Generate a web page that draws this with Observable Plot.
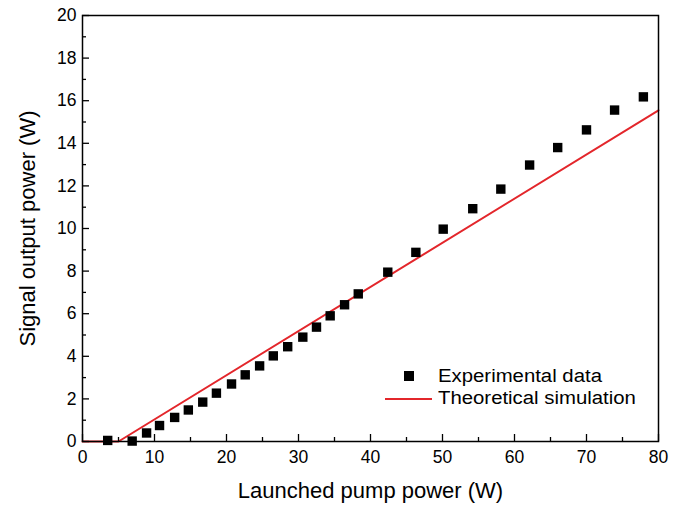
<!DOCTYPE html>
<html>
<head>
<meta charset="utf-8">
<script src="https://cdn.jsdelivr.net/npm/d3@7"></script>
<script src="https://cdn.jsdelivr.net/npm/@observablehq/plot@0.6"></script>
<style>
  body { margin: 0; background: #fff; }
  #wrap { position: relative; width: 686px; height: 513px; font-family: "Liberation Sans", Arial, sans-serif; }
  #legend { position: absolute; left: 382px; top: 365px; font-size: 18px; color: #000; line-height: 22px; }
  .row { display: flex; align-items: center; height: 22px; }
  .sym { width: 56px; height: 22px; position: relative; flex: none; }
  .sq { position: absolute; left: 22px; top: 6px; width: 10px; height: 10px; background: #000; }
  .ln { position: absolute; left: 3px; top: 11px; width: 47px; height: 2px; background: #e3262b; }
  .txt { display: inline-block; transform: scaleX(1.13); transform-origin: left center; white-space: nowrap; }
</style>
</head>
<body>
<div id="wrap">
  <div id="chart"></div>
  <div id="legend">
    <div class="row"><div class="sym"><div class="sq"></div></div><span class="txt">Experimental data</span></div>
    <div class="row"><div class="sym"><div class="ln"></div></div><span class="txt">Theoretical simulation</span></div>
  </div>
</div>
<script>
// Experimental data
const pumpPower = [3.5, 6.9, 8.9, 10.7, 12.8, 14.7, 16.7, 18.6, 20.7, 22.6, 24.6, 26.5, 28.5, 30.6, 32.5, 34.4, 36.4, 38.3, 42.4, 46.3, 50.1, 54.2, 58.1, 62.1, 66.0, 70.0, 73.9, 77.9];
const signalPower = [0.05, 0.02, 0.4, 0.75, 1.13, 1.48, 1.85, 2.27, 2.7, 3.13, 3.55, 4.02, 4.45, 4.9, 5.37, 5.9, 6.42, 6.93, 7.95, 8.88, 9.97, 10.93, 11.85, 12.98, 13.8, 14.63, 15.56, 16.18];
// Theoretical simulation
const simPump = [0, 5.0, 80];
const simSignal = [0, 0, 15.55];

const xMajor = [0, 10, 20, 30, 40, 50, 60, 70, 80];
const xMinor = [5, 15, 25, 35, 45, 55, 65, 75];
const yMajor = [0, 2, 4, 6, 8, 10, 12, 14, 16, 18, 20];
const yMinor = [1, 3, 5, 7, 9, 11, 13, 15, 17, 19];

const expData = pumpPower.map((x, i) => ({x, y: signalPower[i]}));
const simData = simPump.map((x, i) => ({x, y: simSignal[i]}));

const font = "Liberation Sans, Arial, sans-serif";
const chart = Plot.plot({
  width: 686,
  height: 513,
  marginLeft: 82,
  marginRight: 28,
  marginTop: 15,
  marginBottom: 72,
  style: {fontFamily: font, background: "#fff", color: "#000"},
  x: {domain: [0, 80]},
  y: {domain: [0, 20]},
  marks: [
    Plot.line(simData, {x: "x", y: "y", stroke: "#e3262b", strokeWidth: 2}),
    Plot.dot(expData, {x: "x", y: "y", symbol: "square", r: 5.3, fill: "#000", stroke: "none"}),
    Plot.frame({stroke: "#000", strokeWidth: 1.5}),
    Plot.axisX({ticks: xMajor, tickSize: -7, tickFormat: () => "", label: null, strokeWidth: 1.3}),
    Plot.axisX({ticks: xMinor, tickSize: -4, tickFormat: () => "", label: null, strokeWidth: 1.3}),
    Plot.axisY({ticks: yMajor, tickSize: -7, tickFormat: () => "", label: null, strokeWidth: 1.3}),
    Plot.axisY({ticks: yMinor, tickSize: -4, tickFormat: () => "", label: null, strokeWidth: 1.3}),
    Plot.axisX({ticks: xMajor, tickSize: 0, tickPadding: 9, fontSize: 17.5, label: null}),
    Plot.axisY({ticks: yMajor, tickSize: 0, tickPadding: 6, fontSize: 17.5, label: null}),
    Plot.text(["Launched pump power (W)"], {frameAnchor: "bottom", dy: 56, fontSize: 22, fill: "#000"}),
    Plot.text(["Signal output power (W)"], {frameAnchor: "left", dx: -55, rotate: -90, textAnchor: "middle", fontSize: 22, fill: "#000"})
  ]
});
document.getElementById("chart").appendChild(chart);
</script>
</body>
</html>
